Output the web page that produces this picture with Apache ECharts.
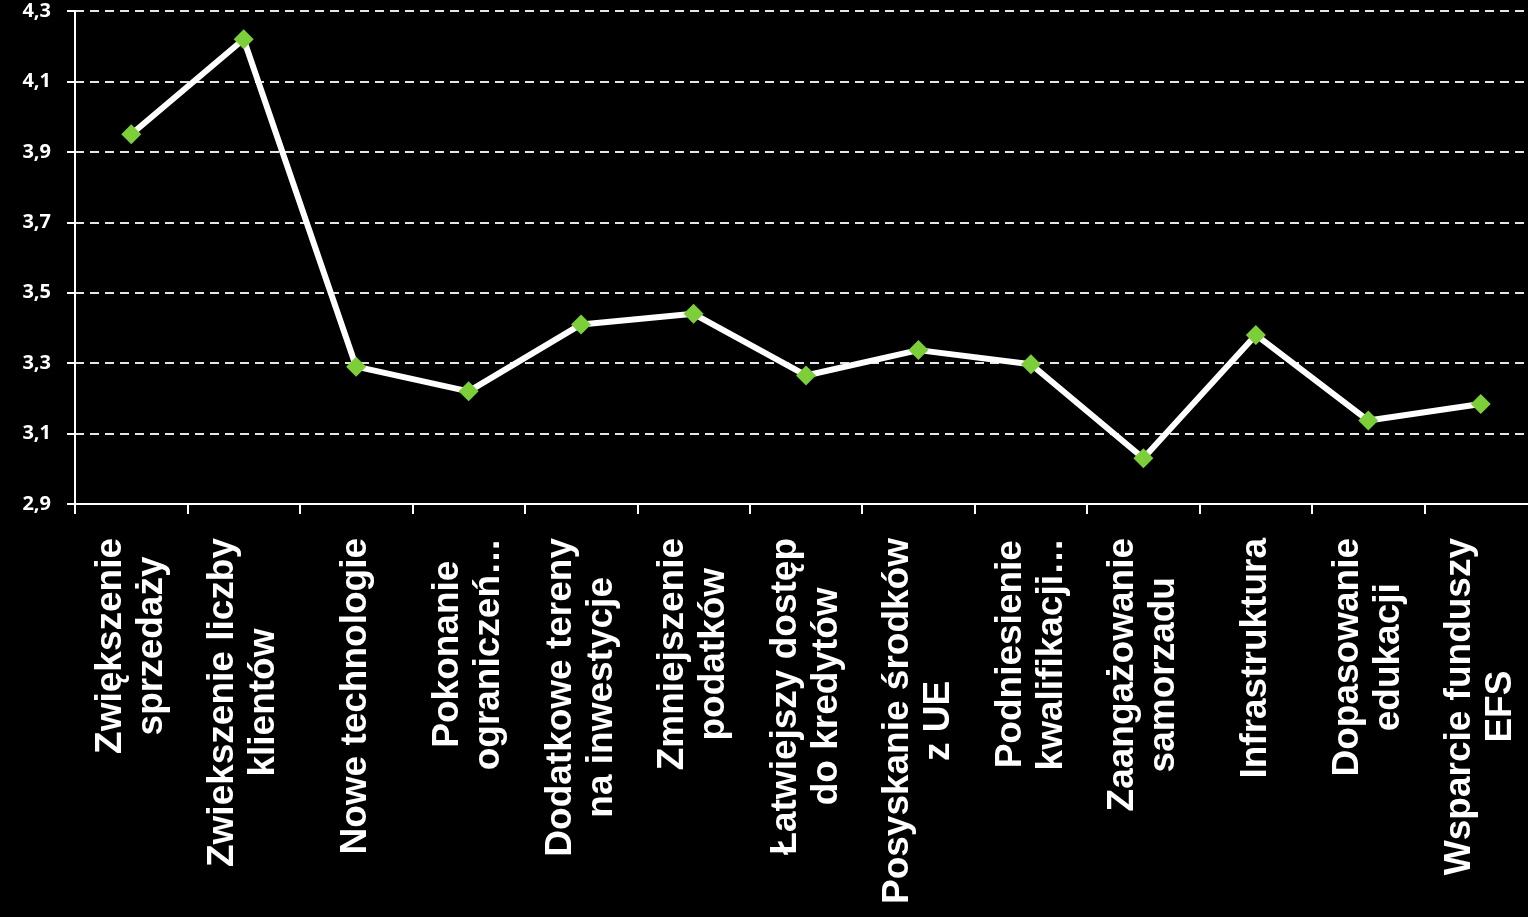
<!DOCTYPE html>
<html>
<head>
<meta charset="utf-8">
<script src="https://cdn.jsdelivr.net/npm/echarts@6/dist/echarts.min.js"></script>
<style>
html,body{margin:0;padding:0;background:#000;}
#chart{width:1528px;height:917px;}
</style>
</head>
<body>
<div id="chart"></div>
<script>
const categories = [
  "Zwiększenie\nsprzedaży",
  "Zwiekszenie liczby\nklientów",
  "Nowe technologie",
  "Pokonanie\nograniczeń…",
  "Dodatkowe tereny\nna inwestycje",
  "Zmniejszenie\npodatków",
  "Łatwiejszy dostęp\ndo kredytów",
  "Posyskanie środków\nz UE",
  "Podniesienie\nkwalifikacji…",
  "Zaangażowanie\nsamorzadu",
  "Infrastruktura",
  "Dopasowanie\nedukacji",
  "Wsparcie funduszy\nEFS"
];
const values = [3.95, 4.22, 3.29, 3.22, 3.41, 3.44, 3.265, 3.337, 3.297, 3.03, 3.38, 3.137, 3.184];
const yTicks = [2.9, 3.1, 3.3, 3.5, 3.7, 3.9, 4.1, 4.3];

const chart = echarts.init(document.getElementById('chart'));
chart.setOption({
  backgroundColor: '#000',
  animation: false,
  grid: { left: 75, width: 1462, top: 11, bottom: 413, containLabel: false, outerBoundsMode: 'none' },
  xAxis: {
    type: 'category',
    data: categories,
    boundaryGap: true,
    axisLine: { lineStyle: { color: '#fff', width: 2 } },
    axisTick: { show: true, length: 10, lineStyle: { color: '#fff', width: 2 } },
    axisLabel: {
      interval: 0,
      rotate: 90,
      margin: 34,
      color: '#fff',
      formatter: function (v) {
        return v.split('\n').map(function (l) { return '{c|' + l + '}'; }).join('\n');
      },
      rich: {
        c: {
          align: 'center',
          color: '#fff',
          fontFamily: 'Liberation Sans, Arial, sans-serif',
          fontWeight: 'bold',
          fontSize: 37,
          lineHeight: 41
        }
      }
    }
  },
  yAxis: {
    type: 'value',
    min: 2.9,
    max: 4.3,
    axisLine: { show: true, lineStyle: { color: '#fff', width: 2 } },
    axisTick: { show: true, length: 8, customValues: yTicks, lineStyle: { color: '#fff', width: 2 } },
    splitLine: { show: true, lineStyle: { color: '#e6e6e6', width: 2, type: [9, 6] } },
    axisLabel: {
      customValues: yTicks,
      margin: 24,
      color: '#fff',
      fontFamily: 'Open Sans, DejaVu Sans, sans-serif',
      fontWeight: 'bold',
      fontSize: 20,
      formatter: function (v) { return v.toFixed(1).replace('.', ','); }
    }
  },
  series: [{
    type: 'line',
    data: values,
    symbol: 'diamond',
    symbolSize: 20,
    lineStyle: { color: '#fff', width: 6 },
    itemStyle: { color: '#7ccf38' },
    z: 3
  }]
});
</script>
</body>
</html>
